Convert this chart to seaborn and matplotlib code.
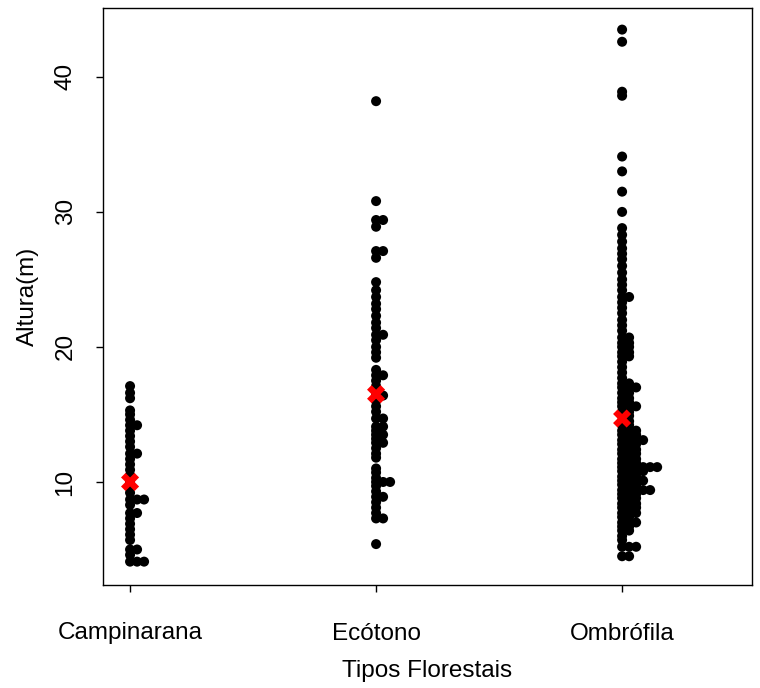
import matplotlib
matplotlib.use("Agg")
import matplotlib.pyplot as plt
import seaborn as sns
import pandas as pd

# ---- data ----
categorias = ["Campinarana", "Ecótono", "Ombrófila"]

camp_alturas = [17.1, 16.6, 16.2, 15.3, 15.0, 14.6, 14.2, 13.8, 13.4, 13.0, 12.6, 12.1,
                11.7, 11.3, 10.9, 10.5, 10.0, 9.6, 9.2, 8.7, 8.3, 7.7, 7.3, 6.9, 6.5,
                6.1, 5.7, 5.0, 4.6, 4.1]
camp_contagens = [1, 1, 1, 1, 1, 1, 2, 1, 1, 1, 1, 2,
                  1, 1, 1, 1, 1, 1, 1, 3, 1, 2, 1, 1, 1,
                  1, 1, 2, 1, 3]

eco_alturas = [38.2, 30.8, 29.4, 28.9, 27.1, 26.6, 24.8, 24.2, 23.7, 23.2, 22.8, 22.3,
               21.8, 21.4, 20.9, 20.5, 20.0, 19.6, 19.2, 18.3, 17.9, 17.5, 17.1, 16.7,
               16.4, 16.0, 15.6, 15.2, 14.7, 14.1, 13.8, 13.5, 13.2, 12.9, 12.5, 12.1,
               11.8, 11.0, 10.7, 10.3, 10.0, 9.7, 9.3, 8.9, 8.5, 8.1, 7.7, 7.3, 5.4]
eco_contagens = [1, 1, 2, 1, 2, 1, 1, 1, 1, 1, 1, 1,
                 1, 1, 2, 1, 1, 1, 1, 1, 2, 1, 1, 1,
                 2, 1, 1, 1, 2, 2, 1, 2, 1, 2, 1, 1,
                 1, 1, 1, 1, 3, 1, 1, 2, 1, 1, 1, 2, 1]

omb_alturas = [43.5, 42.6, 38.9, 38.6, 34.1, 33.0, 31.5, 30.0, 28.8, 28.3, 27.8, 27.3,
               26.9, 26.5, 26.0, 25.5, 25.0, 24.6, 24.2, 23.7, 23.3, 22.9, 22.5, 22.0,
               21.6, 21.2, 20.7, 20.3, 20.0, 19.6, 19.3, 18.9, 18.5, 18.1, 17.7, 17.3,
               17.0, 16.6, 16.2, 15.9, 15.6, 15.2, 14.9, 14.5, 14.2, 13.8, 13.5, 13.1,
               12.8, 12.4, 12.1, 11.7, 11.4, 11.1, 10.8, 10.4, 10.1, 9.8, 9.4, 9.1,
               8.8, 8.4, 8.1, 7.7, 7.4, 7.0, 6.7, 6.4, 6.0, 5.7, 5.2, 4.5]
omb_contagens = [1, 1, 1, 1, 1, 1, 1, 1, 1, 1, 1, 1,
                 1, 1, 1, 1, 1, 1, 1, 2, 1, 1, 1, 1,
                 1, 1, 2, 2, 2, 2, 2, 1, 1, 1, 1, 2,
                 3, 2, 2, 2, 3, 2, 2, 2, 2, 3, 3, 4,
                 3, 3, 3, 3, 3, 6, 4, 3, 4, 3, 5, 3,
                 3, 3, 3, 3, 2, 3, 2, 2, 1, 1, 3, 2]

medias = [10.0, 16.5, 14.7]

# ---- build stacked (R stripchart method="stack") table ----
passo = 0.0285
linhas = []
for i, (alts, conts) in enumerate([(camp_alturas, camp_contagens),
                                   (eco_alturas, eco_contagens),
                                   (omb_alturas, omb_contagens)]):
    for h, c in zip(alts, conts):
        for j in range(c):
            linhas.append({"grupo": categorias[i], "x": i + 1 + j * passo, "altura": h})
df = pd.DataFrame(linhas)
df_med = pd.DataFrame({"x": [1, 2, 3], "altura": medias})

sns.set_style("ticks")
plt.rcParams["font.family"] = ["Liberation Sans", "DejaVu Sans"]

fig = plt.figure(figsize=(7.6, 6.88), dpi=100)
ax = fig.add_axes([103 / 760, 1 - 585 / 688, (752 - 103) / 760, (585 - 8) / 688])

sns.scatterplot(data=df, x="x", y="altura", color="black", s=52, linewidth=0,
                edgecolor="none", ax=ax, legend=False, zorder=2)
sns.scatterplot(data=df_med, x="x", y="altura", color="red", marker="X", s=170,
                linewidth=0, edgecolor="none", ax=ax, legend=False, zorder=3)

ax.set_xlim(0.89, 3.528)
ax.set_ylim(2.37, 45.1)
ax.set_xticks([1, 2, 3])
ax.set_xticklabels(categorias)
ax.set_yticks([10, 20, 30, 40])
ax.set_yticklabels(["10", "20", "30", "40"], rotation=90, va="center")
for sp in ax.spines.values():
    sp.set_visible(True)
    sp.set_color("black")
    sp.set_linewidth(1.0)
ax.tick_params(axis="both", length=5, width=1.0, color="black", labelsize=17.5,
               labelcolor="black")
ax.tick_params(axis="x", pad=22)
ax.tick_params(axis="y", pad=14)
ax.set_xlabel("Tipos Florestais", fontsize=17.5, labelpad=11, color="black")
ax.set_ylabel("Altura(m)", fontsize=17.5, labelpad=11, color="black")
ax.grid(False)

fig.savefig("out.png", dpi=100)
